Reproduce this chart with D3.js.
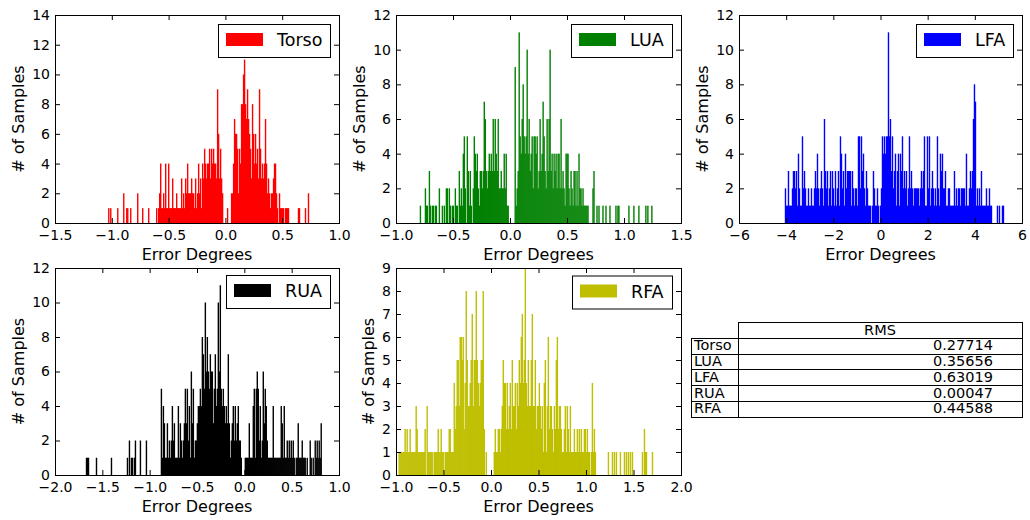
<!DOCTYPE html>
<html><head><meta charset="utf-8">
<script src="https://cdn.jsdelivr.net/npm/d3@7"></script>
<style>
body{margin:0;background:#fff}
svg{display:block}
text{font-family:"DejaVu Sans",sans-serif;fill:#000}
</style>
</head><body>
<svg id="chart" width="1030" height="520"></svg>
<script>
// ---------------- data ----------------
const seriesNames = ["Torso", "LUA", "LFA", "RUA", "RFA"];

const torsoCounts = [
 1,0,1,0,0,0,0,0,0,1, 0,0,0,0,0,2,0,0,1,1, 0,0,1,0,0,0,0,0,0,2, 0,0,0,0,1,0,0,0,0,0,
 1,0,0,0,0,0,0,0,1,0, 1,2,4,1,1,2,1,4,1,1, 4,1,1,1,3,1,1,1,2,1, 1,1,1,3,1,2,1,3,2,4,
 2,2,2,3,2,2,1,3,1,2, 4,2,3,1,4,3,5,4,3,4, 4,5,3,5,4,5,4,4,3,9, 6,3,5,3,2,0,0,0,0,1,
 0,0,0,2,2,4,7,6,6,5, 2,5,4,8,8,10,11,8,7,9, 7,6,5,3,8,6,4,6,4,5, 3,9,5,3,4,3,4,7,4,2,
 3,2,1,2,2,3,4,4,2,1, 0,2,1,1,1,1,0,1,1,1, 1,0,0,0,0,0,0,0,0,0, 1,1,0,0,0,0,0,1,0,0,
 2
];
const luaCounts = [
 1,0,0,0,0,2,1,1,0,3, 1,0,1,1,0,1,1,0,0,2, 0,0,1,0,1,0,2,2,0,2, 1,0,1,1,0,2,1,1,0,3,
 1,2,1,4,5,2,0,5,3,1, 3,1,0,2,5,4,3,4,2,1, 3,3,2,3,7,6,3,2,3,4, 3,4,3,6,3,6,4,3,6,2,
 2,3,2,2,4,2,4,1,1,0, 0,0,0,0,0,9,1,2,3,11, 5,4,6,8,5,4,5,10,4,6, 3,4,5,2,5,5,4,5,2,3,
 6,3,4,7,5,3,2,6,3,6, 10,3,4,2,4,3,4,2,4,4, 2,6,2,3,2,1,4,4,4,2, 1,3,2,1,3,3,1,3,1,4,
 2,2,1,2,1,1,1,1,1,0, 0,0,0,2,3,0,0,1,0,1, 0,0,0,1,0,0,1,0,0,0, 1,0,0,0,0,0,1,0,1,1,
 0,0,0,0,0,0,0,0,0,1, 0,0,0,0,1,0,0,0,0,1, 0,0,0,0,0,0,1,0,1,0, 0,0,1
];
const lfaCounts = [
 2,1,1,3,1,1,1,2,3,3, 2,3,1,4,2,1,1,5,2,3, 2,1,1,2,1,1,2,1,1,2, 3,2,4,2,1,2,3,2,1,6,
 3,2,3,1,2,3,1,3,2,1, 3,1,2,3,1,5,4,2,3,1, 4,2,3,3,3,3,1,3,2,1, 2,2,1,5,5,2,5,3,4,2,
 1,3,2,1,1,1,0,1,3,2, 1,1,2,1,0,1,2,5,4,5, 4,5,5,11,5,6,3,5,2,3, 4,1,3,4,1,4,3,5,2,3,
 2,3,1,2,5,2,3,2,1,2, 2,2,2,2,1,2,3,2,3,5, 1,1,5,2,5,1,2,3,2,1, 2,1,5,2,1,4,3,4,2,2,
 3,1,1,2,2,1,1,1,1,3, 1,2,1,2,2,1,2,2,2,2, 1,4,1,1,2,3,2,3,6,8, 7,1,2,1,2,1,3,1,1,1,
 1,2,1,1,2,1,1,0,0,0, 0,0,1,0,1,0,0,1,1,0
];
const ruaCounts = [
 0,1,1,1,0,0,0,0,0,0, 0,1,0,0,0,0,0,0,0,0, 0,0,0,0,0,0,1,0,0,0, 0,0,0,0,0,0,0,0,0,0,
 0,0,1,0,2,0,1,1,0,1, 2,0,0,0,0,2,0,0,0,0, 0,2,0,0,0,0,0,0,0,0, 0,0,0,0,0,0,5,1,4,3,
 1,1,3,1,2,1,2,4,2,3, 1,1,1,4,1,3,2,1,2,3, 5,3,5,2,4,1,6,3,5,1, 2,2,3,4,4,5,4,8,7,5,
 10,6,8,6,5,7,6,6,3,5, 7,4,5,10,6,11,5,4,5,4, 3,4,3,7,3,1,2,3,4,2, 4,2,3,4,2,2,1,0,0,0,
 1,1,1,1,3,1,1,1,4,5, 1,5,6,5,2,4,1,2,6,3, 5,4,2,1,1,1,1,1,4,1, 1,1,1,1,1,1,4,3,1,4,
 1,1,2,1,2,1,2,1,2,1, 0,1,1,3,1,1,1,2,1,1, 1,0,1,0,0,2,1,0,1,0, 2,1,2,1,2,1,3
];
const rfaCounts = [
 1,1,1,1,1,1,2,1,2,1, 1,2,1,1,1,1,1,3,2,1, 1,1,1,1,1,1,2,0,3,1, 1,1,1,1,0,1,1,1,1,2,
 1,1,2,1,1,0,1,1,1,1, 2,2,1,1,1,4,2,3,5,5, 3,6,6,5,6,2,4,8,5,3, 3,4,5,7,3,5,5,8,5,4,
 3,4,5,5,8,2,0,1,0,0, 0,0,0,0,0,1,2,1,1,2, 2,1,2,3,5,4,4,2,4,2, 3,4,2,5,3,3,4,2,4,3,
 5,4,6,7,4,5,9,4,3,5, 3,3,5,7,3,3,5,2,3,3, 4,3,2,3,1,4,5,1,3,6, 2,3,3,2,1,3,2,5,6,2,
 3,3,2,1,1,2,3,1,3,2, 1,3,1,1,1,2,1,1,2,1, 2,1,2,1,1,2,2,1,2,1, 1,0,1,4,1,2,1,0,0,0,
 0,0,0,0,0,0,0,0,0,1, 0,0,0,1,0,1,0,1,0,0, 0,1,0,0,0,1,0,1,0,1, 0,1,0,1,0,0,0,0,0,0,
 0,0,0,1,0,2,1,1,0,0, 0,0,0,1
];

// histogram bin geometry (error degrees)
const binStarts = [-1.031, -0.790, -4.05, -1.683, -0.972];
const binWidths = [0.00879, 0.00875, 0.0424, 0.01055, 0.01054];

// axes
const xDomains = [[-1.5, 1.0], [-1.0, 1.5], [-6, 6], [-2.0, 1.0], [-1.0, 2.0]];
const xTickValues = [
  [-1.5, -1.0, -0.5, 0.0, 0.5, 1.0],
  [-1.0, -0.5, 0.0, 0.5, 1.0, 1.5],
  [-6, -4, -2, 0, 2, 4, 6],
  [-2.0, -1.5, -1.0, -0.5, 0.0, 0.5, 1.0],
  [-1.0, -0.5, 0.0, 0.5, 1.0, 1.5, 2.0]
];
const xTickFormats = [".1f", ".1f", "d", ".1f", ".1f"];
const yMaxes = [14, 12, 12, 12, 9];
const yTickSteps = [2, 2, 2, 2, 1];

// RMS table
const rmsRowLabels = ["Torso", "LUA", "LFA", "RUA", "RFA"];
const rmsValues = ["0.27714", "0.35656", "0.63019", "0.00047", "0.44588"];
const rmsHeader = "RMS";

// ---------------- layout / style ----------------
const seriesCounts = [torsoCounts, luaCounts, lfaCounts, ruaCounts, rfaCounts];
const colors = ["#ff0000", "#008000", "#0000ff", "#000000", "#bfbf00"];
const frames = [
  {x0: 55, x1: 339, y0: 15, y1: 223},
  {x0: 396, x1: 681, y0: 15, y1: 223},
  {x0: 739, x1: 1022, y0: 15, y1: 223},
  {x0: 55, x1: 339, y0: 268, y1: 475},
  {x0: 396, x1: 681, y0: 268, y1: 475}
];
const legendTops = [24, 24, 24, 275, 275.5];

const svg = d3.select("#chart");

seriesNames.forEach((name, k) => {
  const fr = frames[k];
  const g = svg.append("g");
  const x = d3.scaleLinear().domain(xDomains[k]).range([fr.x0, fr.x1]);
  const y = d3.scaleLinear().domain([0, yMaxes[k]]).range([fr.y1, fr.y0]);
  const bins = seriesCounts[k].map((c, i) => ({
    lo: binStarts[k] + i * binWidths[k],
    hi: binStarts[k] + (i + 1) * binWidths[k],
    c
  })).filter(d => d.c > 0);

  g.append("g").selectAll("rect").data(bins).join("rect")
    .attr("x", d => x(d.lo) - 0.2)
    .attr("width", d => x(d.hi) - x(d.lo) + 0.4)
    .attr("y", d => y(d.c))
    .attr("height", d => y(0) - y(d.c))
    .attr("fill", colors[k]);

  // frame
  g.append("rect")
    .attr("x", fr.x0 + 0.5).attr("y", fr.y0 + 0.5)
    .attr("width", fr.x1 - fr.x0).attr("height", fr.y1 - fr.y0)
    .attr("fill", "none").attr("stroke", "#000").attr("stroke-width", 1);

  const yTicks = d3.range(0, yMaxes[k] + 0.001, yTickSteps[k]);
  const fmt = d3.format(xTickFormats[k]);

  const ax = g.append("g").attr("transform", `translate(0,${fr.y1})`)
    .call(d3.axisBottom(x).tickValues(xTickValues[k]).tickFormat(fmt)
      .tickSizeInner(-5).tickSizeOuter(0).tickPadding(7));
  const at = g.append("g").attr("transform", `translate(0,${fr.y0})`)
    .call(d3.axisTop(x).tickValues(xTickValues[k]).tickFormat(() => "")
      .tickSizeInner(-5).tickSizeOuter(0));
  const ay = g.append("g").attr("transform", `translate(${fr.x0},0)`)
    .call(d3.axisLeft(y).tickValues(yTicks).tickFormat(d3.format("d"))
      .tickSizeInner(-5).tickSizeOuter(0).tickPadding(5));
  const ar = g.append("g").attr("transform", `translate(${fr.x1},0)`)
    .call(d3.axisRight(y).tickValues(yTicks).tickFormat(() => "")
      .tickSizeInner(-5).tickSizeOuter(0));
  [ax, at, ay, ar].forEach(a => {
    a.select(".domain").remove();
    a.selectAll(".tick line").attr("stroke", "#000");
    a.selectAll("text").attr("font-size", 14).attr("font-family", '"DejaVu Sans", sans-serif').attr("fill", "#000");
  });

  // x label
  g.append("text")
    .attr("x", (fr.x0 + fr.x1) / 2).attr("y", fr.y1 + 37)
    .attr("text-anchor", "middle").attr("font-size", 16)
    .text("Error Degrees");

  // y label
  let maxW = 0;
  ay.selectAll("text").each(function(){ maxW = Math.max(maxW, this.getComputedTextLength()); });
  const ylx = fr.x0 - 5 - maxW - 14;
  g.append("text")
    .attr("transform", `translate(${ylx},${(fr.y0 + fr.y1) / 2}) rotate(-90)`)
    .attr("text-anchor", "middle").attr("dy", "0.35em").attr("font-size", 16)
    .text("# of Samples");

  // legend
  const lg = g.append("g");
  const txt = lg.append("text").attr("font-size", 17.5).text(name);
  const tw = txt.node().getComputedTextLength();
  const boxW = tw + 67, boxH = 33;
  const bx = fr.x1 - 9 - boxW, by = legendTops[k];
  lg.insert("rect", "text")
    .attr("x", Math.round(bx) + 0.5).attr("y", by + 0.5)
    .attr("width", Math.round(boxW)).attr("height", boxH)
    .attr("fill", "#fff").attr("stroke", "#000");
  lg.append("rect")
    .attr("x", Math.round(bx) + 8).attr("y", by + 9)
    .attr("width", 37).attr("height", 13)
    .attr("fill", colors[k]);
  txt.attr("x", Math.round(bx) + 59).attr("y", by + 22);
});

// ---------------- RMS table ----------------
const tbl = svg.append("g");
const tL = 691, tM = 738, tR = 1022, tTop = 322, headH = 16, rowH = 15.7;
const cellFont = 14.5;
tbl.append("rect").attr("x", tM + 0.5).attr("y", tTop + 0.5)
  .attr("width", tR - tM).attr("height", headH)
  .attr("fill", "#fff").attr("stroke", "#000");
tbl.append("text").attr("x", (tM + tR) / 2).attr("y", tTop + 12.7)
  .attr("text-anchor", "middle").attr("font-size", cellFont).text(rmsHeader);
rmsRowLabels.forEach((lab, i) => {
  const top = tTop + headH + i * rowH;
  tbl.append("rect").attr("x", tL + 0.5).attr("y", Math.round(top) + 0.5)
    .attr("width", tM - tL).attr("height", Math.round(top + rowH) - Math.round(top))
    .attr("fill", "#fff").attr("stroke", "#000");
  tbl.append("rect").attr("x", tM + 0.5).attr("y", Math.round(top) + 0.5)
    .attr("width", tR - tM).attr("height", Math.round(top + rowH) - Math.round(top))
    .attr("fill", "#fff").attr("stroke", "#000");
  tbl.append("text").attr("x", tL + 3).attr("y", top + 12.4)
    .attr("font-size", cellFont).text(lab);
  tbl.append("text").attr("x", tR - 29).attr("y", top + 12.4)
    .attr("text-anchor", "end").attr("font-size", cellFont).text(rmsValues[i]);
});
</script>
</body></html>
